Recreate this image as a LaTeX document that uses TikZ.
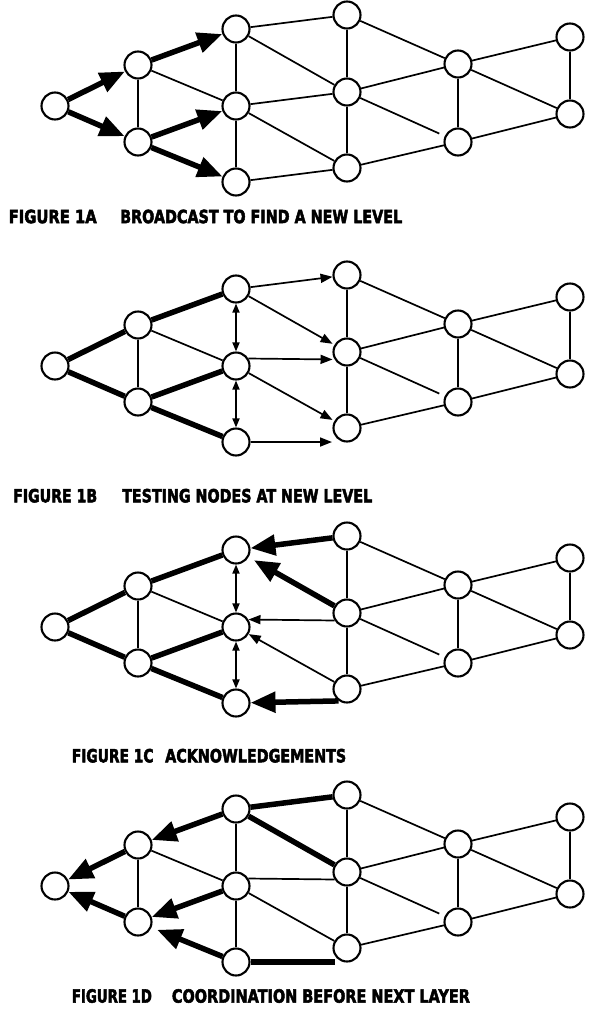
\documentclass[tikz,border=0pt]{standalone}
\usepackage{fontspec}
\newfontfamily\capfont[BoldFeatures={FakeBold=3}]{DejaVu Sans}
\usetikzlibrary{arrows.meta,calc}
\tikzset{
  nd/.style={circle,draw,line width=2.1pt,minimum size=27pt,inner sep=0pt,fill=white},
  ln/.style={line width=1.7pt},
  fat/.style={line width=5.5pt},
  bigarr/.style={fat,-{Triangle[length=25pt,width=20pt]}},
  smarr/.style={ln,-{Triangle[length=12pt,width=9pt]}},
  dbl/.style={ln,{Triangle[length=9pt,width=7pt]}-{Triangle[length=9pt,width=7pt]}},
  captxt/.style={inner sep=0pt,anchor=west,font=\capfont\bfseries},
}
\newcommand\PlaceNodes[2]{%
  \foreach \n/\x/\y in {1/55/106,2/138/65,3/138/142,4/236/29,5/236/106,6/236/182,7/347/15,8/347/92,9/347/168,10/458/64,11/458/142,12/570/37,13/570/114}
    {\node[nd] (#1\n) at (\x,\y+#2) {};}
  \foreach \a/\b in {2/3,2/5,7/8,8/9,7/10,8/10,9/11,10/11,10/12,10/13,11/13,12/13}
    {\draw[ln] (#1\a) -- (#1\b);}
  \draw[ln,shorten >=6pt] (#18) -- (#111);
}
\begin{document}
\begin{tikzpicture}[x=1pt,y=-1pt]
\useasboundingbox (0,0) rectangle (601,1012);

% ---------- Figure 1A ----------
\PlaceNodes{a}{0}
\draw[ln] (a4) -- (a5);
\draw[ln] (a5) -- (a6);
\draw[ln] (a4) -- (a7);
\draw[ln] (a4) -- (a8);
\draw[ln] (a5) -- (a8);
\draw[ln] (a5) -- (a9);
\draw[ln] (a6) -- (a9);
\draw[bigarr] (a1) -- (a2);
\draw[bigarr] (a1) -- (a3);
\draw[bigarr] (a2) -- (a4);
\draw[bigarr] (a3) -- (a5);
\draw[bigarr] (a3) -- (a6);
\node[captxt] (ta1) at (8.5,216.5) {\resizebox{88pt}{13.5pt}{FIGURE 1A}};
\node[captxt] (ta2) at (120,216.5) {\resizebox{282pt}{13.5pt}{BROADCAST TO FIND A NEW LEVEL}};

% ---------- Figure 1B ----------
\PlaceNodes{b}{260}
\draw[fat] (b1) -- (b2);
\draw[fat] (b1) -- (b3);
\draw[fat] (b2) -- (b4);
\draw[fat] (b3) -- (b5);
\draw[fat] (b3) -- (b6);
\draw[dbl] (b4) -- (b5);
\draw[dbl] (b5) -- (b6);
\coordinate (b9s) at ($(b9|-b6)+(-15,0)$);
\draw[smarr] (b4) -- (b7);
\draw[smarr,shorten >=2pt] (b4) -- (b8);
\draw[smarr,shorten >=2pt] (b5.31) -- (b8.211);
\draw[smarr,shorten >=2pt] (b5) -- (b9);
\draw[smarr] (b6) -- (b9s);
\node[captxt] (tb1) at (13,495.7) {\resizebox{84pt}{13.5pt}{FIGURE 1B}};
\node[captxt] (tb2) at (122,495.7) {\resizebox{250pt}{13.5pt}{TESTING NODES AT NEW LEVEL}};

% ---------- Figure 1C ----------
\PlaceNodes{c}{521}
\draw[fat] (c1) -- (c2);
\draw[fat] (c1) -- (c3);
\draw[fat] (c2) -- (c4);
\draw[fat] (c3) -- (c5);
\draw[fat] (c3) -- (c6);
\draw[dbl] (c4) -- (c5);
\draw[dbl] (c5) -- (c6);
\draw[bigarr] (c7) -- (c4);
\draw[bigarr,shorten >=6pt] (c8) -- (c4);
\draw[bigarr] (c9.235) -- (c6);
\draw[smarr] (c8.211) -- (c5.31);
\draw[smarr] (c9) -- (c5);
\node[captxt] (tc1) at (71.7,755.7) {\resizebox{81.6pt}{13.5pt}{FIGURE 1C}};
\node[captxt] (tc2) at (165,755.7) {\resizebox{181pt}{13.5pt}{ACKNOWLEDGEMENTS}};

% ---------- Figure 1D ----------
\PlaceNodes{d}{780}
\draw[ln] (d4) -- (d5);
\draw[ln] (d5) -- (d6);
\draw[ln] (d5.31) -- (d8.211);
\draw[ln] (d5) -- (d9);
\coordinate (d9s) at ($(d9|-d6)+(-12,0)$);
\draw[fat] (d4) -- (d7);
\draw[fat] (d4) -- (d8);
\draw[fat] (d6) -- (d9s);
\draw[bigarr] (d4) -- (d2);
\draw[bigarr] (d2) -- (d1);
\draw[bigarr] (d3) -- (d1);
\draw[bigarr] (d5) -- (d3);
\draw[bigarr,shorten >=6pt] (d6) -- (d3);
\node[captxt] (td1) at (71.7,996) {\resizebox{80pt}{13.5pt}{FIGURE 1D}};
\node[captxt] (td2) at (171.7,996) {\resizebox{298pt}{13.5pt}{COORDINATION BEFORE NEXT LAYER}};
\end{tikzpicture}
\end{document}
